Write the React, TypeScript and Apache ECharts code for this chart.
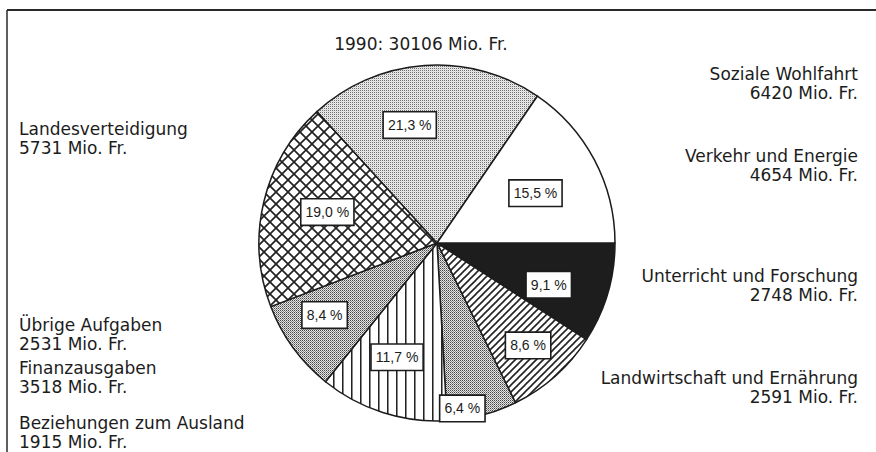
import React, { useEffect, useRef } from 'react';
import * as echarts from 'echarts';

// ---- data (clockwise from 3 o'clock) ----
const CATEGORIES = [
  'Unterricht und Forschung',
  'Landwirtschaft und Ernährung',
  'Beziehungen zum Ausland',
  'Finanzausgaben',
  'Übrige Aufgaben',
  'Landesverteidigung',
  'Soziale Wohlfahrt',
  'Verkehr und Energie',
];
const VALUES = [2748, 2591, 1915, 3518, 2531, 5731, 6420, 4654];
const TITLE_TEXT = '1990: 30106 Mio. Fr.';
const UNIT = 'Mio. Fr.';

// ---- layout / style (not data) ----
const W = 876;
const H = 452;
const CX = 437;
const CY = 243;
const R = 178;
const LABEL_RADIUS = [0.67, 0.77, 0.94, 0.68, 0.75, 0.64, 0.68, 0.62];
const LABEL_ANGLE_SHIFT = [4, 0, 6, 1.5, 3.4, 2.4, -9, 1];
// side annotations: [index, side, centerY]
const SIDE_LABELS: [number, 'left' | 'right', number][] = [
  [5, 'left', 138],
  [4, 'left', 334],
  [3, 'left', 377],
  [2, 'left', 432],
  [6, 'right', 83],
  [7, 'right', 165],
  [0, 'right', 285],
  [1, 'right', 387],
];
const FONT = '"DejaVu Sans", "Liberation Sans", Arial, sans-serif';
const BOX_FONT = '"Liberation Sans", Arial, Helvetica, sans-serif';
const INK = '#1c1c1c';

function tile(w: number, h: number, draw: (ctx: CanvasRenderingContext2D) => void) {
  const c = document.createElement('canvas');
  c.width = w;
  c.height = h;
  const ctx = c.getContext('2d') as CanvasRenderingContext2D;
  draw(ctx);
  return { image: c.toDataURL(), repeat: 'repeat', imageWidth: w, imageHeight: h } as any;
}

function makeFills() {
  const black = '#1d1d1d';
  const diag = tile(7, 7, (ctx) => {
    ctx.fillStyle = '#fff';
    ctx.fillRect(0, 0, 7, 7);
    ctx.strokeStyle = '#222';
    ctx.lineWidth = 1.6;
    for (const k of [-7, 0, 7]) {
      ctx.beginPath();
      ctx.moveTo(k - 1, 8);
      ctx.lineTo(k + 8, -1);
      ctx.stroke();
    }
  });
  const denseDots = tile(2, 2, (ctx) => {
    ctx.fillStyle = '#e6e6e6';
    ctx.fillRect(0, 0, 2, 2);
    ctx.fillStyle = '#444';
    ctx.fillRect(0, 0, 1, 1);
    ctx.fillStyle = '#8a8a8a';
    ctx.fillRect(1, 1, 1, 1);
  });
  const vertical = tile(9, 1, (ctx) => {
    ctx.fillStyle = '#fff';
    ctx.fillRect(0, 0, 9, 1);
    ctx.fillStyle = '#222';
    ctx.fillRect(0, 0, 1, 1);
    ctx.fillStyle = '#888';
    ctx.fillRect(1, 0, 1, 1);
  });
  const cross = tile(12, 12, (ctx) => {
    ctx.fillStyle = '#fff';
    ctx.fillRect(0, 0, 12, 12);
    ctx.strokeStyle = '#222';
    ctx.lineWidth = 1.7;
    ctx.beginPath();
    ctx.moveTo(-2, -2);
    ctx.lineTo(14, 14);
    ctx.moveTo(-2, 14);
    ctx.lineTo(14, -2);
    ctx.stroke();
  });
  const lightDots = tile(2, 2, (ctx) => {
    ctx.fillStyle = '#ececec';
    ctx.fillRect(0, 0, 2, 2);
    ctx.fillStyle = '#6e6e6e';
    ctx.fillRect(0, 0, 1, 1);
    ctx.fillStyle = '#d8d8d8';
    ctx.fillRect(1, 1, 1, 1);
  });
  const white = '#ffffff';
  return [black, diag, denseDots, vertical, denseDots, cross, lightDots, white];
}

export default function App() {
  const ref = useRef<HTMLDivElement>(null);

  useEffect(() => {
    if (!ref.current) return;
    const chart = echarts.init(ref.current, undefined, { renderer: 'svg' });
    const fills = makeFills();
    const total = VALUES.reduce((a, b) => a + b, 0);
    const cum: number[] = [];
    VALUES.reduce((acc, v, i) => {
      cum[i] = acc;
      return acc + v;
    }, 0);
    const pct = (v: number) => ((v / total) * 100).toFixed(1).replace('.', ',') + ' %';

    const sideTexts = SIDE_LABELS.map(([i, side, cy]) => ({
      type: 'text',
      x: side === 'left' ? 19 : 858,
      y: cy,
      silent: true,
      style: {
        text: `${CATEGORIES[i]}\n${VALUES[i]} ${UNIT}`,
        font: `17px ${FONT}`,
        fill: INK,
        lineHeight: 19,
        align: side,
        textAlign: side,
        verticalAlign: 'middle',
        textVerticalAlign: 'middle',
      },
    }));

    chart.setOption({
      animation: false,
      backgroundColor: '#ffffff',
      graphic: [
        {
          type: 'line',
          shape: { x1: 7, y1: 10, x2: W, y2: 10 },
          style: { stroke: '#2a2a2a', lineWidth: 2 },
          silent: true,
        },
        {
          type: 'line',
          shape: { x1: 7, y1: 10, x2: 7, y2: H },
          style: { stroke: '#2a2a2a', lineWidth: 1.5 },
          silent: true,
        },
        {
          type: 'text',
          x: 421,
          y: 44,
          silent: true,
          style: {
            text: TITLE_TEXT,
            font: `17px ${FONT}`,
            fill: INK,
            align: 'center',
            textAlign: 'center',
            verticalAlign: 'middle',
            textVerticalAlign: 'middle',
          },
        },
        ...sideTexts,
      ],
      series: [
        {
          type: 'pie',
          center: [CX, CY],
          radius: R,
          startAngle: 0,
          clockwise: true,
          avoidLabelOverlap: false,
          silent: true,
          itemStyle: { borderColor: INK, borderWidth: 1.5 },
          label: {
            show: true,
            position: 'inside',
            formatter: (p: any) => pct(VALUES[p.dataIndex]),
            fontFamily: BOX_FONT,
            fontSize: 14,
            color: INK,
            backgroundColor: '#ffffff',
            borderColor: INK,
            borderWidth: 1.6,
            padding: [6, 4, 5, 4],
          },
          labelLine: { show: false },
          labelLayout: (p: any) => {
            const i = p.dataIndex;
            const mid = ((cum[i] + VALUES[i] / 2) / total) * 360 + LABEL_ANGLE_SHIFT[i];
            const a = (mid * Math.PI) / 180;
            const r = R * LABEL_RADIUS[i];
            return {
              x: CX + r * Math.cos(a),
              y: CY + r * Math.sin(a),
              align: 'center',
              verticalAlign: 'middle',
            };
          },
          data: CATEGORIES.map((name, i) => ({
            name,
            value: VALUES[i],
            itemStyle: { color: fills[i] },
          })),
        },
      ],
    });
    return () => chart.dispose();
  }, []);

  return (
    <div
      ref={ref}
      style={{ position: 'fixed', left: 0, top: 0, width: W, height: H, background: '#fff' }}
    />
  );
}
